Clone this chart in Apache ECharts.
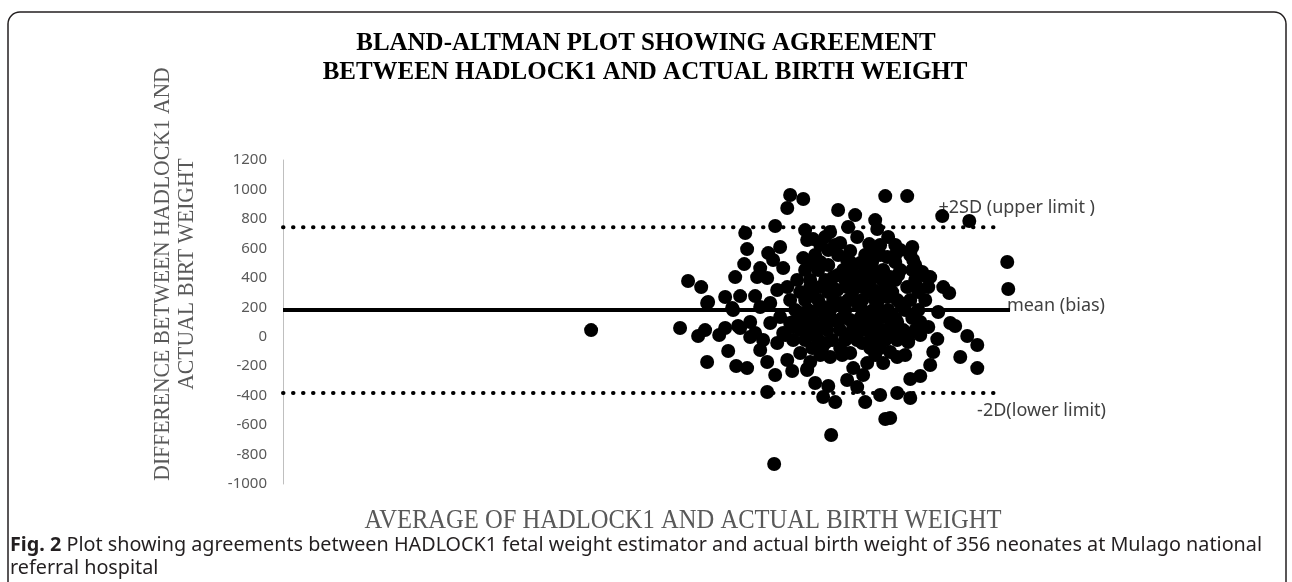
<!DOCTYPE html>
<html><head><meta charset="utf-8">
<script src="https://cdn.jsdelivr.net/npm/echarts@6/dist/echarts.min.js"></script>
<style>html,body{margin:0;padding:0;background:#fff}#c{width:1292px;height:582px}</style>
</head><body><div id="c"></div>
<script>
const titleLines = ['BLAND-ALTMAN PLOT SHOWING AGREEMENT', 'BETWEEN HADLOCK1 AND ACTUAL BIRTH WEIGHT'];
const yAxisTitle = ['DIFFERENCE BETWEEN HADLOCK1 AND', 'ACTUAL BIRT WEIGHT'];
const xAxisTitle = 'AVERAGE OF HADLOCK1 AND ACTUAL BIRTH WEIGHT';
const lineLabels = ['+2SD (upper limit )', 'mean (bias)', '-2D(lower limit)'];
const captionBold = 'Fig. 2';
const captionText = ' Plot showing agreements between HADLOCK1 fetal weight estimator and actual birth weight of 356 neonates at Mulago national';
const captionText2 = 'referral hospital';

const meanBias = 181;
const upperLimit = 743;
const lowerLimit = -382;

const avgWeight = [
2119,2731,2855,2903,2917,3000,3041,3062,2917,3117,3192,3144,3096,3213,2786,2876,2924,3041,3144,3247,
3110,3172,3192,3179,3385,3468,3488,3578,3337,3419,3440,3371,3282,3261,3330,3591,3605,3578,3536,3468,
3399,3351,3282,3089,3130,3213,3351,3419,3488,3557,3330,3378,3385,3502,3605,3557,3468,3330,3282,3302,
3399,3440,3509,3247,
3818,3935,4142,4293,4534,4720,4073,4087,3887,3763,3646,3832,3949,4032,3901,3880,3750,3970,4052,4156,
4328,4314,4348,4396,4431,4438,4541,4582,4245,4176,4087,3922,3784,3646,4293,4224,4156,4059,3984,3880,
3812,3695,3605,3715,3832,3949,4087,4245,4506,4438,4128,4018,3901,3784,3646,4176,3922,3695,4981,4988,
4451,4334,4314,4403,
4500,4623,4706,4775,4658,4775,4472,4451,4383,4314,4224,4314,4176,4300,4245,4224,4589,
4107,4142,4004,3770,3798,3715,3660,3750,3880,3949,3605,3626,3763,3922,3990,4128,4300,4176,4018,3901,
3695,3798,4107,4211,
3660,3818,4004,4107,4211,
3591,3681,3853,4025,4128,4328,
3626,3729,3867,3956,4039,4121,4211,4348,
3557,3640,3750,3915,4025,4107,4190,4369,
3523,3612,3681,3763,3867,3984,4059,4162,4279,4369,
3557,3729,3846,3970,4094,4211,4328,
3557,3626,3743,3832,3984,4052,4121,4266,4348,
3509,3591,3681,3777,3867,3949,4039,4142,4224,
3640,3708,3832,4039,4107,
3695,3901,4211,
3729,4162,
3626,3777,3935,4142,4362,
3488,3591,3681,3784,3887,3984,4073,4314,4417,
3509,3612,3818,3935,4059,4224,4383,
3454,3660,3901,4094,4190,4279,4383,
3729,3984,4107,
3695,3846,4073,4279,
3818,3984,4231,
3750,4039,4245
];
const diffWeight = [
45,59,5,45,229,12,59,-97,-172,-199,-213,59,181,-2,378,337,236,270,276,276,
405,493,595,704,752,874,962,935,568,609,466,521,466,405,399,724,657,534,385,337,
317,229,202,195,73,100,93,134,93,161,-375,-864,-260,-233,-226,-111,-158,-172,-90,-22,
-43,25,66,25,
860,826,955,955,819,786,792,731,745,711,663,636,677,629,582,521,487,500,507,541,
609,555,487,439,405,337,337,297,453,405,432,432,405,500,337,249,270,317,337,337,
317,337,270,202,229,229,229,229,168,66,134,113,113,113,113,66,66,59,507,324,
405,521,568,419,
-16,73,5,-56,-138,-213,-104,-192,-267,-287,-382,-416,-552,-22,45,-138,93,
-396,-559,-444,-667,-444,-409,-314,-335,-294,-342,-219,-172,-138,-213,-260,-179,-36,-104,-179,-111,
623,623,623,623,
555,555,555,555,555,
453,453,453,453,453,453,
385,385,385,385,385,385,385,385,
303,303,303,303,303,303,303,303,
181,181,181,181,181,181,181,181,181,181,
127,127,127,127,127,127,127,
45,45,45,45,45,45,45,45,45,
-22,-22,-22,-22,-22,-22,-22,-22,-22,
-77,-77,-77,-77,-77,
507,507,507,
677,677,
337,337,337,337,337,
249,249,249,249,249,249,249,249,249,
100,100,100,100,100,100,100,
12,12,12,12,12,12,12,
-43,-43,-43,
-124,-124,-124,-124,
419,419,419,
589,589,589
];

const points = avgWeight.map((x, i) => [x, diffWeight[i]]);
const xMin = 0, xMax = 5000, limitEnd = 4945;

const serif = '"Liberation Serif", "DejaVu Serif", serif';
const sans = '"Noto Sans", "Open Sans", sans-serif';

const chart = echarts.init(document.getElementById('c'), null, {renderer: 'canvas'});
chart.setOption({
  animation: false,
  grid: {left: 283, right: 282, top: 160, bottom: 98},
  xAxis: {type: 'value', min: xMin, max: xMax, show: false},
  yAxis: {
    type: 'value', min: -1000, max: 1200, interval: 200,
    axisLine: {show: true, onZero: false, lineStyle: {color: '#bfbfbf', width: 1}},
    axisTick: {show: false}, splitLine: {show: false},
    axisLabel: {color: '#595959', fontFamily: sans, fontSize: 15, margin: 16, formatter: v => String(v)}
  },
  series: [
    {type: 'line', data: [[xMin, upperLimit], [limitEnd, upperLimit]], symbol: 'none', z: 1,
     lineStyle: {color: '#000', width: 4, type: [0.5, 9.5], cap: 'round'}},
    {type: 'line', data: [[xMin, lowerLimit], [limitEnd, lowerLimit]], symbol: 'none', z: 1,
     lineStyle: {color: '#000', width: 4, type: [0.5, 9.5], cap: 'round'}},
    {type: 'line', data: [[xMin, meanBias], [xMax, meanBias]], symbol: 'none', z: 1,
     lineStyle: {color: '#000', width: 4}},
    {type: 'scatter', data: points, symbol: 'circle', symbolSize: 14, z: 3,
     itemStyle: {color: '#000', opacity: 1}}
  ],
  graphic: [
    {type: 'rect', shape: {x: 8, y: 12, width: 1278, height: 640, r: [12, 12, 0, 0]},
     style: {fill: 'none', stroke: '#231f20', lineWidth: 1.5}, silent: true},
    {type: 'text', x: 646, y: 43, scaleX: 0.96, style: {text: titleLines[0], font: 'bold 26px ' + serif, fill: '#000', textAlign: 'center', textVerticalAlign: 'middle'}},
    {type: 'text', x: 645, y: 72, scaleX: 0.96, style: {text: titleLines[1], font: 'bold 26px ' + serif, fill: '#000', textAlign: 'center', textVerticalAlign: 'middle'}},
    {type: 'text', x: 175, y: 274, rotation: Math.PI / 2, scaleX: 0.9,
     style: {text: yAxisTitle.join('\n'), font: '24px ' + serif, fill: '#595959', textAlign: 'center', textVerticalAlign: 'middle', lineHeight: 24}},
    {type: 'text', x: 683, y: 521, scaleX: 0.91, style: {text: xAxisTitle, font: '27px ' + serif, fill: '#595959', textAlign: 'center', textVerticalAlign: 'middle'}},
    {type: 'text', x: 1095, y: 208, style: {text: lineLabels[0], font: '18px ' + sans, fill: '#404040', textAlign: 'right', textVerticalAlign: 'middle'}},
    {type: 'text', x: 1105, y: 306, style: {text: lineLabels[1], font: '18px ' + sans, fill: '#404040', textAlign: 'right', textVerticalAlign: 'middle'}},
    {type: 'text', x: 1106, y: 411, style: {text: lineLabels[2], font: '18px ' + sans, fill: '#404040', textAlign: 'right', textVerticalAlign: 'middle'}},
    {type: 'text', x: 10, y: 545, style: {
      text: '{b|' + captionBold + '}{n|' + captionText + '}', textVerticalAlign: 'middle',
      rich: {b: {font: 'bold 19.8px ' + sans, fill: '#231f20'}, n: {font: '19.8px ' + sans, fill: '#231f20'}}}},
    {type: 'text', x: 10, y: 568, style: {text: captionText2, font: '19.8px ' + sans, fill: '#231f20', textVerticalAlign: 'middle'}}
  ]
});
</script>
</body></html>
